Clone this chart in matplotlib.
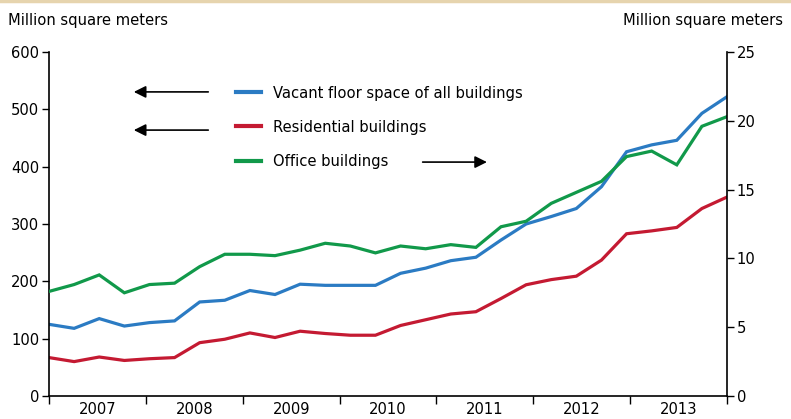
import matplotlib
matplotlib.use("Agg")
import matplotlib.pyplot as plt
from matplotlib.lines import Line2D
import numpy as np

plt.rcParams['font.family'] = ['DejaVu Sans']
plt.rcParams['font.stretch'] = 'condensed'

years = ['2007', '2008', '2009', '2010', '2011', '2012', '2013']
# quarterly, 2007Q1 .. 2013Q4
vacant_all = [125, 118, 135, 122, 128, 131, 164, 167, 184, 177, 195, 193,
              193, 193, 214, 223, 236, 242, 272, 300, 313, 327, 365, 426,
              438, 446, 493, 522]
residential = [67, 60, 68, 62, 65, 67, 93, 99, 110, 102, 113, 109,
               106, 106, 123, 133, 143, 147, 170, 194, 203, 209, 237, 283,
               288, 294, 327, 347]
office = [7.6, 8.1, 8.8, 7.5, 8.1, 8.2, 9.4, 10.3, 10.3, 10.2, 10.6, 11.1,
          10.9, 10.4, 10.9, 10.7, 11.0, 10.8, 12.3, 12.7, 14.0, 14.8, 15.6, 17.4,
          17.8, 16.8, 19.6, 20.3]

c_blue = '#2b7bc3'
c_red = '#c41a32'
c_green = '#11994a'

fs = 11.8
fig = plt.figure(figsize=(7.91, 4.19), dpi=100)
ax = fig.add_axes([49/791, 1-396/419, 678/791, 344/419])
ax2 = ax.twinx()

x = np.arange(len(vacant_all))
ax.plot(x, vacant_all, color=c_blue, lw=2.3, solid_joinstyle='miter')
ax.plot(x, residential, color=c_red, lw=2.3, solid_joinstyle='miter')
ax2.plot(x, office, color=c_green, lw=2.3, solid_joinstyle='miter')

n = len(x) - 1
ax.set_xlim(0, n)
ax.set_ylim(0, 600)
ax2.set_ylim(0, 25)
ax.set_yticks(range(0, 601, 100))
ax2.set_yticks(range(0, 26, 5))

step = n / len(years)
ax.set_xticks([step * k for k in range(len(years) + 1)])
ax.set_xticklabels([])
ax.set_xticks([step * (k + 0.5) for k in range(len(years))], minor=True)
ax.set_xticklabels(years, minor=True)
ax.tick_params(axis='x', which='major', length=6, width=1, direction='out')
ax.tick_params(axis='x', which='minor', length=0, pad=4, labelsize=fs)
ax.tick_params(axis='y', length=5, width=1, labelsize=fs, pad=2)
ax2.tick_params(axis='y', length=5, width=1, labelsize=fs, pad=2)

for a in (ax, ax2):
    a.spines['top'].set_visible(False)
    for s in a.spines.values():
        s.set_linewidth(1.2)
ax.spines['right'].set_visible(False)
ax2.spines['left'].set_visible(False)
ax2.spines['bottom'].set_visible(False)

fig.text(8/791, 1-20/419, 'Million square meters', fontsize=fs, va='center', ha='left')
fig.text(783/791, 1-20/419, 'Million square meters', fontsize=fs, va='center', ha='right')

handles = [Line2D([], [], color=c_blue, lw=3),
           Line2D([], [], color=c_red, lw=3),
           Line2D([], [], color=c_green, lw=3)]
labels = ['Vacant floor space of all buildings', 'Residential buildings', 'Office buildings']
ax.legend(handles, labels, loc='upper left', bbox_to_anchor=(0.254, 0.945), frameon=False,
          fontsize=fs, handlelength=1.52, handletextpad=0.73, labelspacing=1.18)

arrow = dict(arrowstyle='-|>', color='black', lw=1.2, mutation_scale=18)
ax.annotate('', xy=(0.121, 0.884), xytext=(0.239, 0.884), xycoords='axes fraction', arrowprops=arrow)
ax.annotate('', xy=(0.121, 0.773), xytext=(0.239, 0.773), xycoords='axes fraction', arrowprops=arrow)
ax.annotate('', xy=(0.650, 0.680), xytext=(0.547, 0.680), xycoords='axes fraction', arrowprops=arrow)

fig.add_artist(Line2D([0, 1], [1 - 1/419, 1 - 1/419], color='#e6d4ae', lw=2.5, transform=fig.transFigure))

fig.savefig('out.png', dpi=100)
